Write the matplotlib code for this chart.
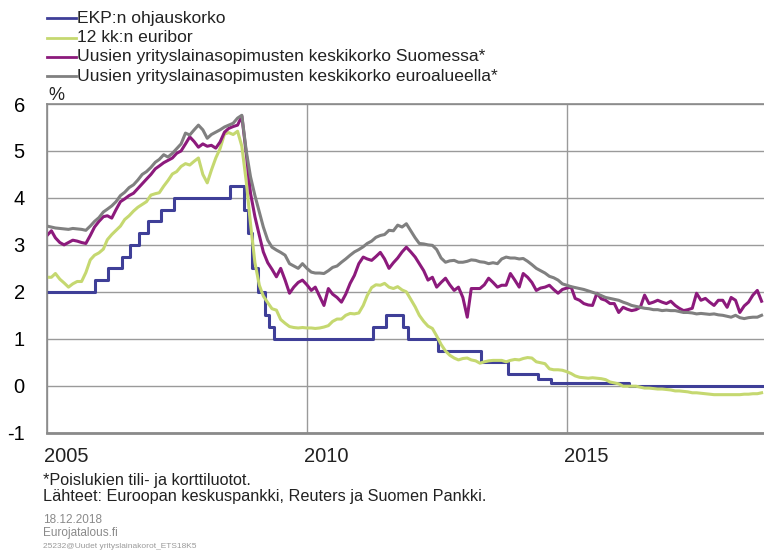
import matplotlib
matplotlib.use('Agg')
import matplotlib.pyplot as plt
import matplotlib.transforms as mtransforms
from matplotlib.lines import Line2D
import pandas as pd

plt.rcParams['font.family'] = ['Liberation Sans', 'DejaVu Sans']
plt.rcParams['axes.unicode_minus'] = False

# series labels (legend order)
LABELS = ['EKP:n ohjauskorko',
          '12 kk:n euribor',
          'Uusien yrityslainasopimusten keskikorko Suomessa*',
          'Uusien yrityslainasopimusten keskikorko euroalueella*']
COLORS = ['#3f3f98', '#c5d870', '#8c1a7c', '#808080']

# ECB main refinancing rate: change dates and new rate, %
ecb_dates = ['2005-01-01', '2005-12-06', '2006-03-08', '2006-06-15', '2006-08-09',
             '2006-10-11', '2006-12-13', '2007-03-14', '2007-06-13', '2008-07-09',
             '2008-10-15', '2008-11-12', '2008-12-10', '2009-01-21', '2009-03-11',
             '2009-04-08', '2009-05-13', '2011-04-13', '2011-07-13', '2011-11-09',
             '2011-12-14', '2012-07-11', '2013-05-08', '2013-11-13', '2014-06-11',
             '2014-09-10', '2016-03-16', '2018-10-25']
ecb_rate = [2.00, 2.25, 2.50, 2.75, 3.00,
            3.25, 3.50, 3.75, 4.00, 4.25,
            3.75, 3.25, 2.50, 2.00, 1.50,
            1.25, 1.00, 1.25, 1.50, 1.25,
            1.00, 0.75, 0.50, 0.25, 0.15,
            0.05, 0.00, 0.00]

# monthly values from Jan 2005, %
euribor = [2.31, 2.31, 2.39, 2.27, 2.19, 2.10, 2.17, 2.22, 2.22, 2.41, 2.68, 2.78,
           2.83, 2.91, 3.11, 3.22, 3.31, 3.40, 3.54, 3.62, 3.72, 3.80, 3.86, 3.92,
           4.06, 4.09, 4.11, 4.25, 4.37, 4.51, 4.56, 4.67, 4.73, 4.70, 4.78, 4.85,
           4.50, 4.32, 4.59, 4.85, 5.05, 5.36, 5.39, 5.35, 5.42, 5.10, 4.35, 3.45,
           2.62, 2.14, 1.91, 1.77, 1.64, 1.61, 1.41, 1.33, 1.26, 1.24, 1.23, 1.24,
           1.23, 1.23, 1.22, 1.23, 1.25, 1.28, 1.37, 1.42, 1.42, 1.50, 1.54, 1.53,
           1.55, 1.71, 1.92, 2.09, 2.15, 2.14, 2.18, 2.10, 2.07, 2.11, 2.04, 2.00,
           1.84, 1.68, 1.50, 1.37, 1.27, 1.22, 1.06, 0.88, 0.74, 0.65, 0.59, 0.55,
           0.58, 0.59, 0.55, 0.53, 0.48, 0.51, 0.53, 0.54, 0.54, 0.54, 0.51, 0.54,
           0.56, 0.55, 0.58, 0.60, 0.59, 0.51, 0.49, 0.47, 0.36, 0.34, 0.34, 0.33,
           0.30, 0.26, 0.21, 0.18, 0.17, 0.16, 0.17, 0.16, 0.15, 0.13, 0.08, 0.06,
           0.04, -0.01, -0.01, -0.01, -0.01, -0.03, -0.05, -0.05, -0.06, -0.07, -0.07, -0.08,
           -0.09, -0.11, -0.11, -0.12, -0.13, -0.15, -0.15, -0.16, -0.17, -0.18, -0.19, -0.19,
           -0.19, -0.19, -0.19, -0.19, -0.19, -0.18, -0.18, -0.17, -0.17, -0.15]

loans_fi = [3.20, 3.30, 3.15, 3.05, 3.00, 3.05, 3.10, 3.08, 3.05, 3.03, 3.20, 3.38,
            3.50, 3.60, 3.62, 3.57, 3.75, 3.92, 3.98, 4.05, 4.10, 4.20, 4.30, 4.40,
            4.50, 4.62, 4.68, 4.75, 4.80, 4.85, 4.95, 5.00, 5.15, 5.30, 5.20, 5.08,
            5.15, 5.10, 5.12, 5.06, 5.19, 5.40, 5.48, 5.52, 5.55, 5.74, 4.95, 4.10,
            3.60, 3.20, 2.85, 2.62, 2.48, 2.32, 2.50, 2.25, 1.97, 2.10, 2.20, 2.25,
            2.15, 2.03, 2.10, 1.90, 1.71, 2.07, 1.95, 1.88, 1.78, 1.95, 2.18, 2.35,
            2.60, 2.74, 2.70, 2.67, 2.75, 2.84, 2.70, 2.50, 2.62, 2.72, 2.85, 2.95,
            2.85, 2.74, 2.60, 2.45, 2.25, 2.31, 2.10, 2.20, 2.29, 2.15, 2.03, 2.10,
            1.88, 1.46, 2.07, 2.07, 2.07, 2.15, 2.29, 2.20, 2.10, 2.14, 2.14, 2.39,
            2.25, 2.10, 2.39, 2.31, 2.20, 2.03, 2.08, 2.10, 2.14, 2.05, 1.97, 2.05,
            2.08, 2.10, 1.86, 1.82, 1.75, 1.72, 1.71, 1.97, 1.85, 1.82, 1.75, 1.75,
            1.56, 1.67, 1.63, 1.60, 1.62, 1.67, 1.93, 1.75, 1.78, 1.82, 1.78, 1.75,
            1.80, 1.71, 1.65, 1.60, 1.62, 1.65, 1.97, 1.82, 1.86, 1.78, 1.71, 1.82,
            1.82, 1.67, 1.88, 1.82, 1.56, 1.70, 1.78, 1.93, 2.03, 1.80]

loans_ea = [3.40, 3.38, 3.36, 3.35, 3.34, 3.33, 3.35, 3.34, 3.33, 3.31, 3.40, 3.50,
            3.58, 3.70, 3.76, 3.83, 3.92, 4.05, 4.12, 4.22, 4.28, 4.38, 4.50, 4.56,
            4.65, 4.76, 4.82, 4.92, 4.87, 4.95, 5.05, 5.15, 5.38, 5.34, 5.45, 5.55,
            5.45, 5.27, 5.35, 5.40, 5.45, 5.51, 5.55, 5.59, 5.70, 5.76, 5.00, 4.45,
            4.05, 3.70, 3.38, 3.10, 2.95, 2.89, 2.84, 2.78, 2.60, 2.55, 2.50, 2.60,
            2.50, 2.42, 2.40, 2.40, 2.39, 2.45, 2.52, 2.55, 2.63, 2.70, 2.78, 2.85,
            2.90, 2.96, 3.03, 3.08, 3.16, 3.20, 3.22, 3.31, 3.30, 3.42, 3.38, 3.45,
            3.30, 3.15, 3.03, 3.02, 3.00, 2.99, 2.90, 2.72, 2.63, 2.66, 2.67, 2.63,
            2.63, 2.65, 2.68, 2.67, 2.64, 2.63, 2.60, 2.62, 2.60, 2.70, 2.74, 2.72,
            2.72, 2.70, 2.71, 2.65, 2.58, 2.50, 2.45, 2.40, 2.33, 2.30, 2.25, 2.17,
            2.14, 2.11, 2.09, 2.07, 2.05, 2.02, 1.99, 1.96, 1.92, 1.88, 1.86, 1.84,
            1.82, 1.78, 1.75, 1.71, 1.69, 1.67, 1.65, 1.64, 1.62, 1.62, 1.60, 1.61,
            1.60, 1.60, 1.58, 1.56, 1.56, 1.55, 1.53, 1.54, 1.53, 1.52, 1.53, 1.51,
            1.50, 1.48, 1.46, 1.50, 1.45, 1.43, 1.45, 1.46, 1.46, 1.50]

YEAR_TICKS = ['2005', '2010', '2015']
Y_TICKS = [-1, 0, 1, 2, 3, 4, 5, 6]

months = pd.date_range('2005-01-01', periods=len(loans_fi), freq='MS')
ecb_x = pd.to_datetime(ecb_dates)

fig = plt.figure(figsize=(7.64, 5.54), dpi=100)
ax = fig.add_axes([47 / 764, 1 - 432.7 / 554, 718 / 764, (432.7 - 104) / 554])

lw = 2.2
ax.plot(ecb_x, ecb_rate, color=COLORS[0], lw=lw, drawstyle='steps-post')
ax.plot(months, euribor, color=COLORS[1], lw=lw)
ax.plot(months, loans_fi, color=COLORS[2], lw=lw)
ax.plot(months, loans_ea, color=COLORS[3], lw=lw)

ax.set_xlim(pd.Timestamp('2005-01-01'), pd.Timestamp('2018-10-25'))
ax.set_ylim(-1, 6)
ax.set_yticks(Y_TICKS)
ax.set_xticks(pd.to_datetime([y + '-01-01' for y in YEAR_TICKS]))
ax.set_xticklabels([])
ax.tick_params(axis='both', length=0)
ax.tick_params(axis='y', labelsize=14.5, pad=16)
ax.grid(True, color='#9a9a9a', lw=1)
ax.set_axisbelow(True)

for side in ['left', 'top']:
    ax.spines[side].set_color('#8a8a8a')
    ax.spines[side].set_linewidth(1.2)
ax.spines['bottom'].set_color('#8a8a8a')
ax.spines['bottom'].set_linewidth(2)
ax.spines['right'].set_visible(False)

# year labels sit just right of their gridline
trans = mtransforms.blended_transform_factory(ax.transData, ax.transAxes)
offset = mtransforms.ScaledTranslation(-3 / 100, 0, fig.dpi_scale_trans)
for y in YEAR_TICKS:
    ax.text(pd.Timestamp(y + '-01-01'), -0.045, y, transform=trans + offset,
            ha='left', va='top', fontsize=14.5, color='#222222')

fig.text(48 / 764, 1 - 100 / 554, '%', fontsize=13, ha='left', va='baseline', color='#222222')

# legend drawn by hand at the top
rows_y = [18, 38, 57, 76]
for lab, col, yy in zip(LABELS, COLORS, rows_y):
    yf = 1 - yy / 554
    fig.add_artist(Line2D([47 / 764, 76 / 764], [yf, yf], color=col, lw=2,
                          transform=fig.transFigure))
    fig.text(77 / 764, yf, lab, fontsize=12.6, ha='left', va='center', color='#222222')

fig.text(43 / 764, 1 - 481 / 554, '*Poislukien tili- ja korttiluotot.',
         fontsize=11.7, va='center', color='#222222')
fig.text(43 / 764, 1 - 497 / 554,
         'Lähteet: Euroopan keskuspankki, Reuters ja Suomen Pankki.',
         fontsize=11.7, va='center', color='#222222')
fig.text(43 / 764, 1 - 520 / 554, '18.12.2018', fontsize=8.5, va='center', color='#8a8a8a')
fig.text(43 / 764, 1 - 533 / 554, 'Eurojatalous.fi', fontsize=8.5, va='center', color='#8a8a8a')
fig.text(43 / 764, 1 - 546 / 554, '25232@Uudet yrityslainakorot_ETS18K5',
         fontsize=6, va='center', color='#9a9a9a')

fig.savefig('out.png', dpi=100)
